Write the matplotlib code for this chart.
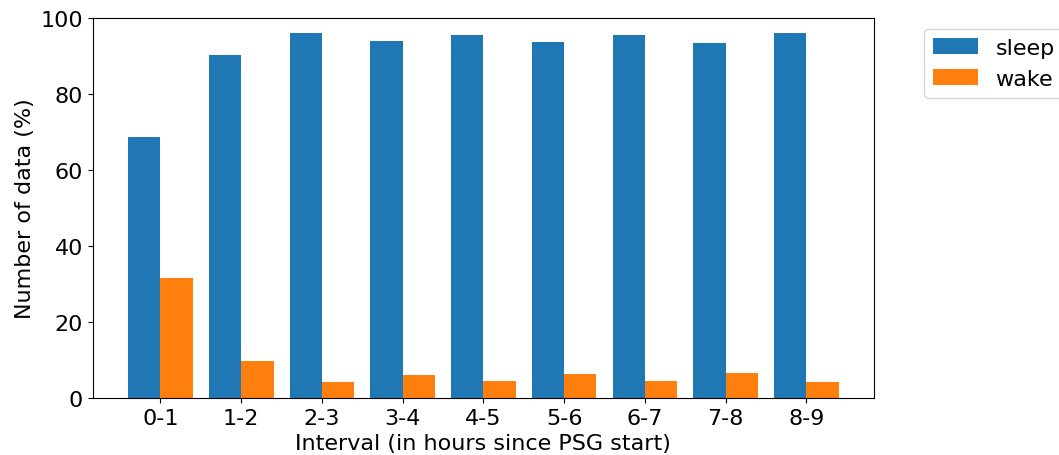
import matplotlib
matplotlib.use("Agg")
import matplotlib.pyplot as plt
import numpy as np

# values
intervals = ["0-1", "1-2", "2-3", "3-4", "4-5", "5-6", "6-7", "7-8", "8-9"]
sleep = [68.5, 90.3, 95.9, 93.9, 95.5, 93.7, 95.5, 93.3, 95.9]
wake = [31.5, 9.7, 4.1, 6.1, 4.5, 6.3, 4.5, 6.7, 4.1]

plt.rcParams['font.size'] = 16

fig = plt.figure(figsize=(10.59, 4.56), dpi=100)
ax = fig.add_axes([0.0875, 0.125, 0.738, 0.834])

x = np.arange(len(intervals))
w = 0.4
ax.bar(x - w/2, sleep, w, color="#1f77b4", label="sleep")
ax.bar(x + w/2, wake, w, color="#ff7f0e", label="wake")

ax.set_xticks(x)
ax.set_xticklabels(intervals)
ax.set_ylim(0, 100)
ax.set_xlabel("Interval (in hours since PSG start)")
ax.set_ylabel("Number of data (%)")
ax.legend(bbox_to_anchor=(1.05, 1), loc="upper left")

fig.savefig("out.png", dpi=100)
